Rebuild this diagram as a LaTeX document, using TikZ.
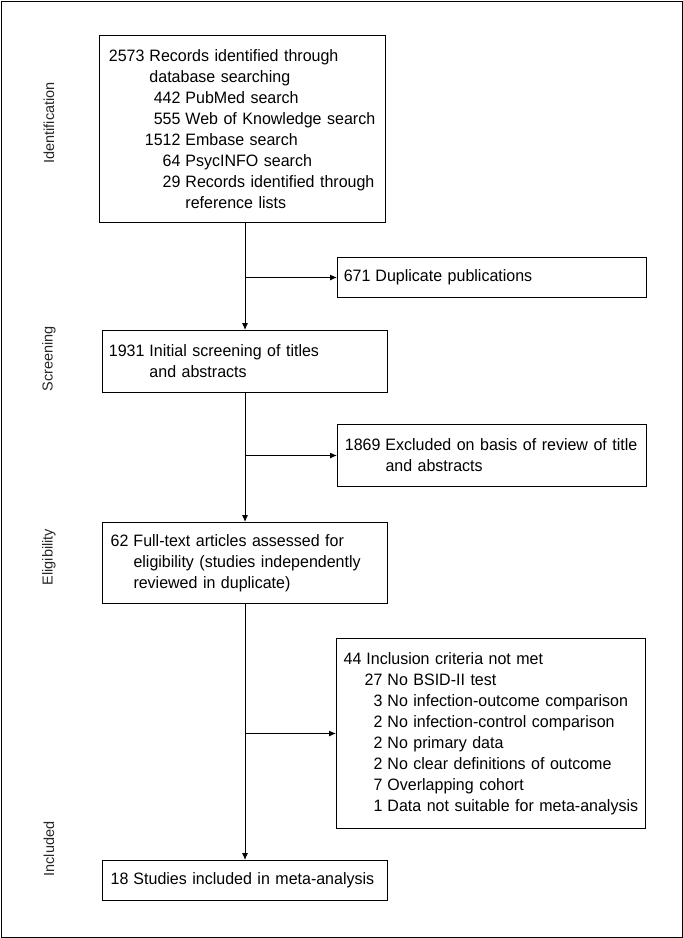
\documentclass[tikz,border=0pt]{standalone}
\usepackage{fontspec}
\setmainfont{Liberation Sans}[FakeStretch=0.97]
\newfontfamily\sidefont{Liberation Sans}
\usetikzlibrary{arrows.meta}

\newcommand{\nr}[2]{\makebox[#1][r]{#2}\hspace{5pt}}

\tikzset{
  box/.style={draw, line width=1pt, anchor=north west, inner xsep=7pt, inner ysep=0pt,
    align=left, font=\fontsize{16.5}{21}\selectfont},
  arr/.style={line width=1pt, -{Latex[length=7pt,width=6pt]}},
  side/.style={rotate=90, font=\sidefont\fontsize{14.5}{17}\selectfont, text=black!85}
}

\begin{document}
\begin{tikzpicture}[x=1pt,y=-1pt]
    \useasboundingbox (0,0) rectangle (683,938);
    % Outer frame
    \draw[line width=1pt] (1,1) rectangle (682,937);

    % Stage labels
    \node[side] (lid) at (49,123) {Identification};
    \node[side] (lscr) at (49,359) {Screening};
    \node[side] (lel) at (49,557) {Eligibility};
    \node[side] (lin) at (49,849) {Included};

    % Main column
    \node[box, minimum width=286pt, minimum height=187pt, text width=272pt] (ident) at (99,35)
      {\nr{38pt}{2573}Records identified through\\
       \hspace{43pt}database searching\\
       \nr{74pt}{442}PubMed search\\
       \nr{74pt}{555}Web of Knowledge search\\
       \nr{74pt}{1512}Embase search\\
       \nr{74pt}{64}PsycINFO search\\
       \nr{74pt}{29}Records identified through\\
       \hspace{79pt}reference lists};
    \node[box, minimum width=285pt, minimum height=62pt, text width=271pt] (scr) at (102,330)
      {\nr{35pt}{1931}Initial screening of titles\\
       \hspace{40pt}and abstracts};
    \node[box, minimum width=285pt, minimum height=81pt, text width=271pt] (elig) at (102,522)
      {\nr{19pt}{62}Full-text articles assessed for\\
       \hspace{24pt}eligibility (studies independently\\
       \hspace{24pt}reviewed in duplicate)};
    \node[box, minimum width=285pt, minimum height=40pt, text width=271pt] (incl) at (102,860)
      {\nr{19pt}{18}Studies included in meta-analysis};

    % Side column
    \node[box, minimum width=309pt, minimum height=40pt, text width=295pt] (dup) at (337,257)
      {\nr{26pt}{671}Duplicate publications};
    \node[box, minimum width=309pt, minimum height=62pt, text width=295pt] (excl) at (337,424)
      {\nr{36pt}{1869}Excluded on basis of review of title\\
       \hspace{41pt}and abstracts};
    \node[box, minimum width=309pt, minimum height=190pt, text width=295pt] (notmet) at (336,638)
      {\nr{18pt}{44}Inclusion criteria not met\\
       \nr{39pt}{27}No BSID-II test\\
       \nr{39pt}{3}No infection-outcome comparison\\
       \nr{39pt}{2}No infection-control comparison\\
       \nr{39pt}{2}No primary data\\
       \nr{39pt}{2}No clear definitions of outcome\\
       \nr{39pt}{7}Overlapping cohort\\
       \nr{39pt}{1}Data not suitable for meta-analysis};

    % Connectors
    \coordinate (b1) at (scr.north |- dup.west);
    \coordinate (b2) at (scr.south |- excl.west);
    \coordinate (b3) at (elig.south |- notmet.west);
    \draw[arr] (scr.north |- ident.south) -- (scr.north);
    \draw[arr] (scr.south) -- (elig.north);
    \draw[arr] (elig.south) -- (incl.north);
    \draw[arr] (b1) -- (dup.west);
    \draw[arr] (b2) -- (excl.west);
    \draw[arr] (b3) -- (notmet.west);
\end{tikzpicture}
\end{document}
